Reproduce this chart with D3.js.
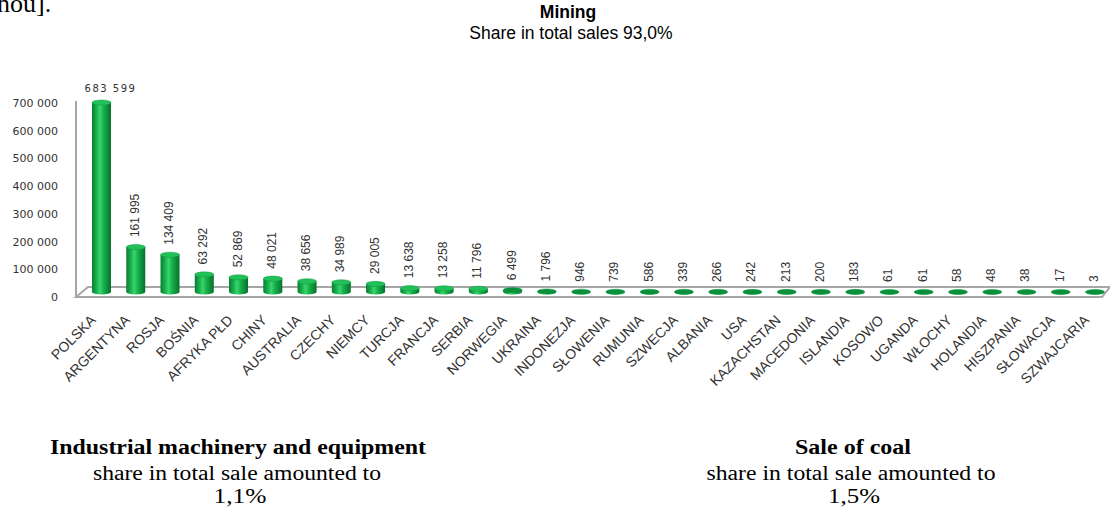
<!DOCTYPE html>
<html>
<head>
<meta charset="utf-8">
<script src="https://cdn.jsdelivr.net/npm/d3@7"></script>
<style>
    body { margin: 0; background: #fff; }
    svg { display: block; }
    .serif { font-family: 'Liberation Serif', 'Times New Roman', serif; fill: #000; }
    .sans { font-family: 'Liberation Sans', Arial, sans-serif; }
</style>
</head>
<body>
<div id="chart"></div>
<script>
const countries = ['POLSKA', 'ARGENTYNA', 'ROSJA', 'BOŚNIA', 'AFRYKA PŁD', 'CHINY', 'AUSTRALIA', 'CZECHY',
    'NIEMCY', 'TURCJA', 'FRANCJA', 'SERBIA', 'NORWEGIA', 'UKRAINA', 'INDONEZJA', 'SŁOWENIA', 'RUMUNIA',
    'SZWECJA', 'ALBANIA', 'USA', 'KAZACHSTAN', 'MACEDONIA', 'ISLANDIA', 'KOSOWO', 'UGANDA', 'WŁOCHY',
    'HOLANDIA', 'HISZPANIA', 'SŁOWACJA', 'SZWAJCARIA'];
const sales = [683599, 161995, 134409, 63292, 52869, 48021, 38656, 34989, 29005, 13638, 13258, 11796,
    6499, 1796, 946, 739, 586, 339, 266, 242, 213, 200, 183, 61, 61, 58, 48, 38, 17, 3];
const yTicks = [0, 100000, 200000, 300000, 400000, 500000, 600000, 700000];

const WIDTH = 1110;
const HEIGHT = 507;

const locale = d3.formatLocale({ decimal: ',', thousands: ' ', grouping: [3], currency: ['', ''] });
const fmt = locale.format(',d');

const svg = d3.select('#chart').append('svg').attr('width', WIDTH).attr('height', HEIGHT);

// gradient for the cylinders
const defs = svg.append('defs');
const grad = defs.append('linearGradient').attr('id', 'cyl').attr('x1', 0).attr('x2', 1).attr('y1', 0).attr('y2', 0);
[['0%', '#077d31'], ['25%', '#19b24d'], ['42%', '#3bd46d'], ['60%', '#17b34b'], ['100%', '#06702b']]
    .forEach(([o, c]) => grad.append('stop').attr('offset', o).attr('stop-color', c));

// leftover line of the document above the chart
svg.append('text').attr('class', 'serif').attr('x', -3).attr('y', 12)
    .style('font-size', '26px').text('nou].');

// titles
svg.append('text').attr('class', 'sans').attr('x', 568).attr('y', 18).attr('text-anchor', 'middle')
    .style('font-size', '17.5px').style('font-weight', 'bold').text('Mining');
svg.append('text').attr('class', 'sans').attr('x', 571).attr('y', 39).attr('text-anchor', 'middle')
    .style('font-size', '17.5px').text('Share in total sales 93,0%');

// scales
const x = d3.scalePoint().domain(countries).range([101.5, 1095]);
const yBar = d3.scaleLinear().domain([0, 700000]).range([292, 98]);
const yAxisScale = d3.scaleLinear().domain([0, 700000]).range([297, 103]);

// floor and wall
const frame = svg.append('g').attr('fill', 'none').attr('stroke', '#a6a6a6').attr('stroke-width', 2);
frame.append('path').attr('fill', '#fff')
    .attr('d', 'M76,297 L1102,297 L1110,287 L88,287 Z');

// y axis
const yAxis = d3.axisLeft(yAxisScale).tickValues(yTicks).tickFormat(fmt).tickSize(0).tickPadding(18);
const ay = svg.append('g').attr('transform', 'translate(76,0)').call(yAxis);
ay.select('.domain').attr('stroke', '#a6a6a6').attr('stroke-width', 2).attr('d', 'M0,101V297');
ay.selectAll('text').style('font-family', "'DejaVu Sans', Verdana, sans-serif").style('font-size', '11px')
    .attr('fill', '#333');

// bars as cylinders
const bw = 19;
const rx = bw / 2;
const ry = 2.6;
const bars = svg.append('g').selectAll('g').data(sales).enter().append('g');
bars.append('path')
    .attr('fill', 'url(#cyl)')
    .attr('d', (v, i) => {
        const cx = x(countries[i]);
        const top = yBar(v);
        const base = yBar(0);
        return `M${cx - rx},${top} L${cx - rx},${base} A${rx},${ry} 0 0 0 ${cx + rx},${base} L${cx + rx},${top} Z`;
    });
bars.append('ellipse')
    .attr('cx', (v, i) => x(countries[i]))
    .attr('cy', (v) => yBar(v))
    .attr('rx', rx).attr('ry', ry)
    .attr('fill', (v) => (yBar(0) - yBar(v) > 2 ? '#22c058' : '#0b8f3c'))
    .attr('stroke', '#0e9a42').attr('stroke-width', 0.5);

// value labels
const labels = svg.append('g').attr('class', 'sans').attr('fill', '#333');
labels.selectAll('text').data(sales).enter().append('text')
    .text((v) => fmt(v))
    .each(function (v, i) {
        const cx = x(countries[i]);
        const top = yBar(v);
        const t = d3.select(this);
        if (i === 0) {
            t.attr('x', cx + 9).attr('y', top - 11).attr('text-anchor', 'middle')
                .style('font-family', "'DejaVu Sans', Verdana, sans-serif")
                .style('font-size', '10px').style('letter-spacing', '1.5px');
        } else {
            t.attr('transform', `translate(${cx + 3},${top - 10}) rotate(-90)`)
                .style('font-size', '12px');
        }
    });

// category labels
svg.append('g').attr('class', 'sans').attr('fill', '#333')
    .selectAll('text').data(countries).enter().append('text')
    .attr('text-anchor', 'end')
    .attr('transform', (c) => `translate(${x(c) - 5},321) rotate(-45)`)
    .style('font-size', '14px')
    .text((c) => c);

// notes under the chart
const notes = [
    { x: 238, y: 454, w: 376, text: 'Industrial machinery and equipment', bold: true },
    { x: 237, y: 480, w: 288, text: 'share in total sale amounted to', bold: false },
    { x: 240, y: 503, w: 53, text: '1,1%', bold: false },
    { x: 853, y: 454, w: 116, text: 'Sale of coal', bold: true },
    { x: 851, y: 480, w: 289, text: 'share in total sale amounted to', bold: false },
    { x: 854, y: 503, w: 52, text: '1,5%', bold: false }
];
svg.append('g').selectAll('text').data(notes).enter().append('text')
    .attr('class', 'serif')
    .attr('x', (d) => d.x).attr('y', (d) => d.y)
    .attr('text-anchor', 'middle')
    .attr('textLength', (d) => d.w)
    .attr('lengthAdjust', 'spacingAndGlyphs')
    .style('font-size', '20px')
    .style('font-weight', (d) => (d.bold ? 'bold' : 'normal'))
    .text((d) => d.text);
</script>
</body>
</html>
